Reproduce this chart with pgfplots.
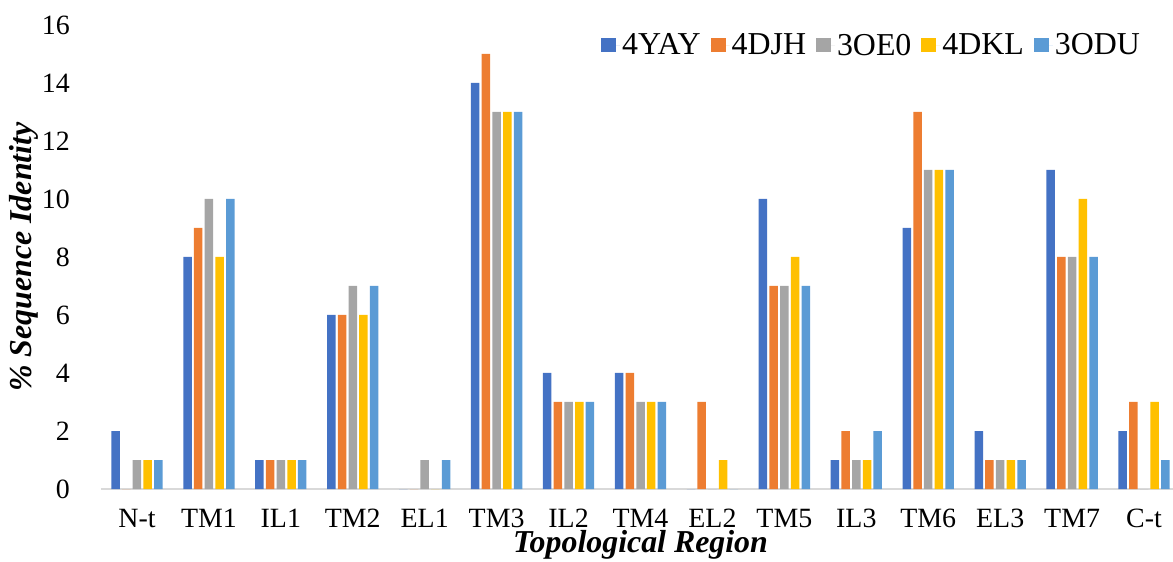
\documentclass[border=0pt]{standalone}
\usepackage{pgfplots}
\pgfplotsset{compat=1.18}
\usepackage{pgfplotstable}
\usepackage{fontspec}
\setmainfont{Liberation Serif}

\definecolor{c4yay}{HTML}{4472C4}
\definecolor{c4djh}{HTML}{ED7D31}
\definecolor{c3oe0}{HTML}{A5A5A5}
\definecolor{c4dkl}{HTML}{FFC000}
\definecolor{c3odu}{HTML}{5B9BD5}

% % sequence identity per topological region
\pgfplotstableread{
x  yay djh oe dkl odu
0  2   0   1  1   1
1  8   9   10 8   10
2  1   1   1  1   1
3  6   6   7  6   7
4  0   0   1  0   1
5  14  15  13 13  13
6  4   3   3  3   3
7  4   4   3  3   3
8  0   3   0  1   0
9  10  7   7  8   7
10 1   2   1  1   2
11 9   13  11 11  11
12 2   1   1  1   1
13 11  8   8  10  8
14 2   3   0  3   1
}\ident

\begin{document}
\begin{tikzpicture}
\begin{axis}[
    scale only axis,
    width=1079bp, height=464bp,
    ybar=2.2bp, bar width=8.5bp,
    xmin=-0.5, xmax=14.5,
    ymin=0, ymax=16,
    ytick={0,2,...,16},
    xtick=data,
    xticklabels={N-t,TM1,IL1,TM2,EL1,TM3,IL2,TM4,EL2,TM5,IL3,TM6,EL3,TM7,C-t},
    axis x line=bottom, axis y line=left,
    x axis line style={-, draw=black!15, line width=1.6bp},
    y axis line style={draw=none},
    major tick length=0pt,
    tick style={draw=none},
    /pgf/number format/assume math mode=true,
    ticklabel style={font=\fontsize{28}{32}\selectfont},
    yticklabel style={anchor=east, inner sep=0pt, xshift=-31bp},
    xticklabel style={anchor=base, inner sep=0pt, yshift=-38bp},
    xlabel={\textbf{\textit{Topological Region}}},
    ylabel={\textbf{\textit{\% Sequence Identity}}},
    label style={font=\fontsize{32}{36}\selectfont},
    xlabel style={at={(axis description cs:0.5,-0.1379)}, anchor=base, inner sep=0pt},
    ylabel style={at={(axis description cs:-0.0644,0.5)}, anchor=base, inner sep=0pt},
    legend columns=5,
    legend style={at={(0.9676,0.99)}, anchor=north east, draw=none, fill=none,
        font=\fontsize{32}{36}\selectfont,
        /tikz/every even column/.append style={column sep=8bp}},
    legend image code/.code={%
        \fill[#1,draw=none] (0bp,-7bp) rectangle (15bp,7bp);
        \path (0bp,0bp) -- (19bp,0bp);},
    every axis plot/.append style={draw=none},
]
\addplot[fill=c4yay] table[x=x,y=yay] {\ident};
\addlegendentry{4YAY}
\addplot[fill=c4djh] table[x=x,y=djh] {\ident};
\addlegendentry{4DJH}
\addplot[fill=c3oe0] table[x=x,y=oe] {\ident};
\addlegendentry{3OE0}
\addplot[fill=c4dkl] table[x=x,y=dkl] {\ident};
\addlegendentry{4DKL}
\addplot[fill=c3odu] table[x=x,y=odu] {\ident};
\addlegendentry{3ODU}
\end{axis}
\pgfresetboundingbox
\path ([shift={(-101bp,-73bp)}]current axis.south west) rectangle ++(1173bp,562bp);
\end{tikzpicture}
\end{document}
